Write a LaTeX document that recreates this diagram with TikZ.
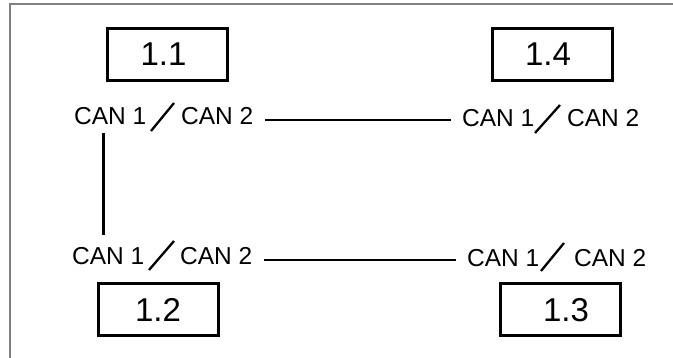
\documentclass[tikz,border=0pt]{standalone}
\usepackage{fontspec}
\setmainfont{Liberation Sans}
\tikzset{
  ecubox/.style={draw, line width=3pt, minimum width=120pt, minimum height=52pt,
    inner sep=0pt, font=\fontsize{33}{38}\selectfont},
  canlabel/.style={anchor=base west, inner xsep=11pt, inner ysep=0pt,
    text height=16pt, text depth=6pt, font=\fontsize{24.5}{28}\selectfont},
  canline/.style={line width=2.5pt},
  canslash/.style={line width=2.3pt},
  frameline/.style={line width=2pt, gray},
}
\begin{document}
\begin{tikzpicture}[x=1pt,y=-1pt]
\useasboundingbox (0,0) rectangle (673,358);
\draw [frameline] (10,358) -- (10,4.5) -- (673,4.5);
\node [ecubox] (u11) at (167.5,54.5) {\hspace*{-8pt}1.1};
\node [ecubox] (u14) at (552,54.5) {\hspace*{-8pt}1.4};
\node [ecubox] (u12) at (158,310) {1.2};
\node [ecubox] (u13) at (560,310) {\hspace*{12pt}1.3};
\node [canlabel] (tl1) at (63,125) {CAN 1};
\node [canlabel] (tl2) at (170,125) {CAN 2};
\node [canlabel] (tr1) at (451,127) {CAN 1};
\node [canlabel] (tr2) at (556,127) {CAN 2};
\node [canlabel] (bl1) at (61,265) {CAN 1};
\node [canlabel] (bl2) at (169,265) {CAN 2};
\node [canlabel] (br1) at (456,267) {CAN 1};
\node [canlabel] (br2) at (563,267) {CAN 2};
\draw [canslash] (151,131) -- (174,103);
\draw [canslash] (535,133) -- (560,105);
\draw [canslash] (149,270) -- (174,241);
\draw [canslash] (541,271) -- (564,243);
\draw [canline] (tl2.east) -- (tl2.east -| tr1.west);
\draw [canline] (bl2.east) -- (bl2.east -| br1.west);
\draw [canline, shorten <=2pt, shorten >=14pt] ([xshift=-7pt]tl1.south) -- ([xshift=-7pt]tl1.south |- bl1.north);
\end{tikzpicture}
\end{document}
